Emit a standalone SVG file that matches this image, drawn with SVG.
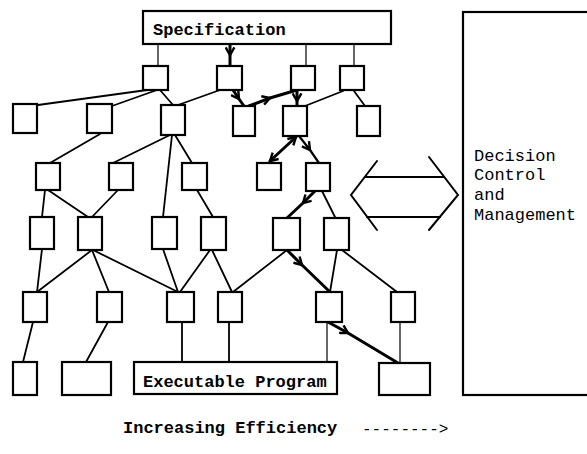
<svg xmlns="http://www.w3.org/2000/svg" width="587" height="454" viewBox="0 0 587 454">
  <style>
    .box { fill: #fff; stroke: #000; stroke-width: 2.2; }
    .ln { fill: none; stroke: #000; stroke-width: 1.8; stroke-linecap: round; }
    .thin { fill: none; stroke: #000; stroke-width: 1.2; }
    .bold { fill: none; stroke: #000; stroke-width: 3; stroke-linecap: round; }
    .mono { font-family: "Liberation Mono", "DejaVu Sans Mono", monospace; font-size: 17px; fill: #000; }
    .b { font-weight: bold; }
  </style>
  <defs>
    <marker id="chev" viewBox="0 0 10 10" refX="8" refY="5" markerUnits="userSpaceOnUse" markerWidth="11" markerHeight="11" orient="auto-start-reverse">
      <path d="M1,1 L8,5 L1,9" fill="none" stroke="#000" stroke-width="2.2"/>
    </marker>
  </defs>

  <!-- connectors -->
  <g id="connectors">
    <!-- specification to first level -->
    <path class="thin" d="M158,44 V66"/>
    <path class="bold" d="M230,44 L230,55 L230,66" marker-mid="url(#chev)"/>
    <path class="thin" d="M306,44 V66"/>
    <path class="thin" d="M354,44 V66"/>

    <!-- level 1 to level 2 -->
    <path class="ln" d="M147,90 L38,105"/>
    <path class="ln" d="M157,90 L112,106"/>
    <path class="ln" d="M160,90 L173,105"/>
    <path class="ln" d="M220,90 L178,105"/>
    <path class="bold" d="M233,90 L239,99 L244,106" marker-mid="url(#chev)"/>
    <path class="bold" d="M249,106 L270,98 L297,90" marker-mid="url(#chev)"/>
    <path class="bold" d="M297,90 L297,101 L297,106" marker-mid="url(#chev)"/>
    <path class="ln" d="M343,91 L305,106"/>
    <path class="ln" d="M354,91 L365,106"/>

    <!-- level 2 to level 3 -->
    <path class="ln" d="M100,134 L50,163"/>
    <path class="ln" d="M170,135 L113,163"/>
    <path class="ln" d="M175,135 L192,163"/>
    <path class="ln" d="M172,135 L163,217"/>
    <path class="bold" d="M296,137 L270,161" marker-start="url(#chev)" marker-end="url(#chev)"/>
    <path class="ln" style="stroke-width:2.2" d="M299,136 L310,150 L319,163" marker-mid="url(#chev)"/>

    <!-- level 3 to level 4 -->
    <path class="ln" d="M45,190 L42,217"/>
    <path class="ln" d="M48,190 L88,217"/>
    <path class="ln" d="M118,190 L92,217"/>
    <path class="ln" d="M197,190 L213,217"/>
    <path class="bold" d="M315,191 L303,203 L287,218" marker-mid="url(#chev)"/>
    <path class="ln" d="M322,191 L335,217"/>

    <!-- level 4 to level 5 -->
    <path class="ln" d="M42,249 L37,292"/>
    <path class="ln" d="M92,250 L37,292"/>
    <path class="ln" d="M92,250 L109,292"/>
    <path class="ln" d="M93,250 L178,292"/>
    <path class="ln" d="M163,249 L178,292"/>
    <path class="ln" d="M210,250 L180,292"/>
    <path class="ln" d="M212,250 L232,292"/>
    <path class="ln" d="M287,250 L233,292"/>
    <path class="bold" d="M287,250 L302,265 L330,292" marker-mid="url(#chev)"/>
    <path class="ln" d="M337,250 L330,292"/>
    <path class="ln" d="M342,250 L397,292"/>

    <!-- level 5 to level 6 -->
    <path class="ln" d="M33,322 L23,362"/>
    <path class="ln" d="M108,322 L86,362"/>
    <path class="ln" d="M182,322 V362"/>
    <path class="ln" d="M229,322 V362"/>
    <path class="thin" d="M327,322 V362"/>
    <path class="bold" d="M328,322 L348,333 L398,363" marker-mid="url(#chev)"/>
    <path class="thin" d="M400,322 V363"/>
  </g>

  <!-- specification -->
  <g id="specification">
    <rect class="box" x="143" y="11" width="248" height="33"/>
    <text class="mono b" x="153" y="35">Specification</text>
  </g>

  <!-- level 1 -->
  <g id="n1a"><rect class="box" x="143" y="66" width="25" height="24"/></g>
  <g id="n1b"><rect class="box" x="217" y="66" width="25" height="24"/></g>
  <g id="n1c"><rect class="box" x="291" y="66" width="24" height="24"/></g>
  <g id="n1d"><rect class="box" x="340" y="66" width="24" height="24"/></g>

  <!-- level 2 -->
  <g id="n2a"><rect class="box" x="13" y="104" width="24" height="29"/></g>
  <g id="n2b"><rect class="box" x="87" y="104" width="25" height="29"/></g>
  <g id="n2c"><rect class="box" x="161" y="105" width="24" height="30"/></g>
  <g id="n2d"><rect class="box" x="233" y="106" width="22" height="30"/></g>
  <g id="n2e"><rect class="box" x="283" y="106" width="24" height="30"/></g>
  <g id="n2f"><rect class="box" x="357" y="106" width="23" height="30"/></g>

  <!-- level 3 -->
  <g id="n3a"><rect class="box" x="36" y="163" width="24" height="27"/></g>
  <g id="n3b"><rect class="box" x="109" y="163" width="24" height="27"/></g>
  <g id="n3c"><rect class="box" x="182" y="163" width="25" height="27"/></g>
  <g id="n3d"><rect class="box" x="257" y="163" width="24" height="27"/></g>
  <g id="n3e"><rect class="box" x="306" y="163" width="24" height="28"/></g>

  <!-- level 4 -->
  <g id="n4a"><rect class="box" x="30" y="217" width="24" height="32"/></g>
  <g id="n4b"><rect class="box" x="78" y="217" width="24" height="33"/></g>
  <g id="n4c"><rect class="box" x="152" y="217" width="25" height="32"/></g>
  <g id="n4d"><rect class="box" x="201" y="217" width="25" height="33"/></g>
  <g id="n4e"><rect class="box" x="273" y="218" width="27" height="32"/></g>
  <g id="n4f"><rect class="box" x="324" y="218" width="25" height="32"/></g>

  <!-- level 5 -->
  <g id="n5a"><rect class="box" x="23" y="292" width="24" height="30"/></g>
  <g id="n5b"><rect class="box" x="97" y="292" width="25" height="30"/></g>
  <g id="n5c"><rect class="box" x="167" y="292" width="27" height="30"/></g>
  <g id="n5d"><rect class="box" x="218" y="292" width="24" height="30"/></g>
  <g id="n5e"><rect class="box" x="316" y="292" width="26" height="30"/></g>
  <g id="n5f"><rect class="box" x="391" y="292" width="24" height="30"/></g>

  <!-- level 6 -->
  <g id="n6a"><rect class="box" x="13" y="362" width="24" height="33"/></g>
  <g id="n6b"><rect class="box" x="62" y="362" width="49" height="33"/></g>
  <g id="executable">
    <rect class="box" x="134" y="362" width="203" height="32"/>
    <text class="mono b" x="143" y="387">Executable Program</text>
  </g>
  <g id="n6d"><rect class="box" x="379" y="363" width="51" height="32"/></g>

  <!-- two-way exchange with the decision block -->
  <g id="exchange" class="ln" style="stroke-width:2">
    <path d="M377,161 L351,195 L377,230"/>
    <path d="M429,157 L458,195 L429,230"/>
    <path d="M365,177 H444"/>
    <path d="M367,217 H440"/>
  </g>

  <!-- decision control and management -->
  <g id="decision">
    <rect class="box" x="463" y="12" width="140" height="383"/>
    <text class="mono" x="474" y="161">Decision</text>
    <text class="mono" x="474" y="180">Control</text>
    <text class="mono" x="474" y="200">and</text>
    <text class="mono" x="474" y="220">Management</text>
  </g>

  <!-- axis caption -->
  <g id="caption">
    <text class="mono b" x="123" y="433">Increasing Efficiency</text>
    <text class="mono" x="362" y="434" style="font-size:16px">--------&gt;</text>
  </g>
</svg>
